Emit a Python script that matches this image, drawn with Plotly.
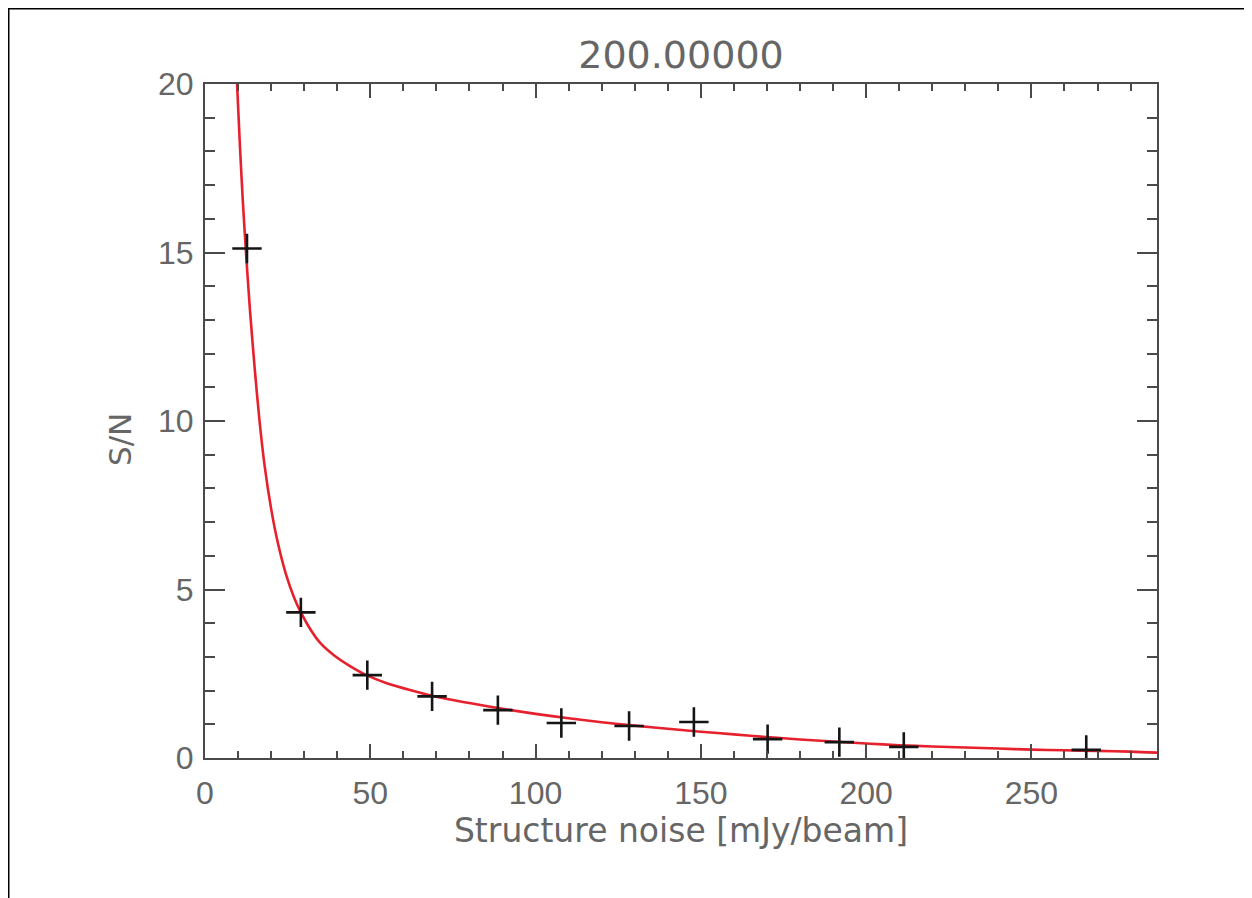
import plotly.graph_objects as go

# Measured points (crosses)
noise_x = [12.7, 29.0, 49.1, 68.7, 88.6, 107.8, 128.3, 147.9, 170.2, 191.9, 211.4, 266.6]
snr_y = [15.12, 4.32, 2.46, 1.83, 1.42, 1.04, 0.95, 1.07, 0.56, 0.47, 0.33, 0.24]

# Red fitted curve
fit_x = [9.7, 10.5, 11.4, 12.4, 13.6, 15.0, 16.5, 18.0, 20.0, 22.0, 24.5, 27.0, 29.0,
         32.0, 35.0, 39.0, 44.0, 49.0, 55.0, 62.0, 70.0, 80.0, 90.0, 100.0, 110.0,
         120.0, 130.0, 140.0, 150.0, 160.0, 170.0, 180.0, 190.0, 200.0, 210.0, 220.0,
         230.0, 240.0, 250.0, 260.0, 270.0, 280.0, 288.0]
fit_y = [20.0, 18.3, 16.6, 15.0, 13.3, 11.6, 10.0, 8.7, 7.4, 6.4, 5.45, 4.75, 4.32,
         3.8, 3.4, 3.05, 2.72, 2.45, 2.22, 2.02, 1.82, 1.63, 1.46, 1.31, 1.18,
         1.06, 0.96, 0.87, 0.78, 0.70, 0.62, 0.55, 0.49, 0.43, 0.38, 0.34,
         0.31, 0.28, 0.25, 0.23, 0.21, 0.19, 0.16]

title_text = "200.00000"
x_title = "Structure noise [mJy/beam]"
y_title = "S/N"
x_ticks = [0, 50, 100, 150, 200, 250]
y_ticks = [0, 5, 10, 15, 20]

# page body has an 8px margin, so the figure is drawn 8px smaller
W, H = 1244, 890
L, R, T, B = 197, 95, 76, 140
pw, ph = W - L - R, H - T - B

axis_col = "#4a4a4a"
text_col = "#666666"
tick_font = "Liberation Sans, Arial, sans-serif"
label_font = "DejaVu Sans, sans-serif"

fig = go.Figure()
fig.add_trace(go.Scatter(x=fit_x, y=fit_y, mode="lines",
                         line=dict(color="#e6202c", width=2.6, shape="spline", smoothing=0.8),
                         hoverinfo="skip", showlegend=False))
fig.add_trace(go.Scatter(x=noise_x, y=snr_y, mode="markers",
                         marker=dict(symbol="cross-thin", size=21,
                                     line=dict(color="#151515", width=2.6)),
                         showlegend=False))

def px2paper_x(px):
    return (px - L) / pw

def px2paper_y(py):
    return (H - B - py) / ph

# Black border lines at top and left of the image
fig.add_shape(type="line", xref="paper", yref="paper",
              x0=px2paper_x(0), x1=px2paper_x(W - 2), y0=px2paper_y(0), y1=px2paper_y(0),
              line=dict(color="black", width=3))
fig.add_shape(type="line", xref="paper", yref="paper",
              x0=px2paper_x(0), x1=px2paper_x(0), y0=px2paper_y(0), y1=px2paper_y(H),
              line=dict(color="black", width=3))

fig.add_annotation(text=y_title, xref="paper", yref="paper",
                   x=px2paper_x(112), y=px2paper_y(432), xanchor="center", yanchor="middle",
                   textangle=-90, showarrow=False,
                   font=dict(family=label_font, size=31, color=text_col))

fig.update_layout(
    width=W, height=H,
    margin=dict(l=L, r=R, t=T, b=B),
    paper_bgcolor="white", plot_bgcolor="white",
    title=dict(text=title_text, x=(L + pw / 2) / W, xanchor="center",
               y=1 - 47 / H, yanchor="middle",
               font=dict(family=label_font, size=38, color=text_col)),
    font=dict(family=tick_font, color=text_col),
)
fig.update_xaxes(
    range=[0, 288], tickvals=x_ticks, ticks="inside", ticklen=14, tickwidth=2,
    tickcolor=axis_col, showline=True, linecolor=axis_col, linewidth=2,
    mirror="allticks", showgrid=False, zeroline=False,
    tickfont=dict(size=32, color=text_col), ticklabelstandoff=6,
    minor=dict(ticks="inside", ticklen=7, tickwidth=2, dtick=10, tickcolor=axis_col, showgrid=False),
    title=dict(text=x_title, font=dict(family=label_font, size=33, color=text_col), standoff=0),
)
fig.update_yaxes(
    range=[0, 20], tickvals=y_ticks, ticks="inside", ticklen=20, tickwidth=2,
    tickcolor=axis_col, showline=True, linecolor=axis_col, linewidth=2,
    mirror="allticks", showgrid=False, zeroline=False,
    tickfont=dict(size=32, color=text_col), ticklabelstandoff=3,
    minor=dict(ticks="inside", ticklen=10, tickwidth=2, dtick=1, tickcolor=axis_col, showgrid=False),
)

fig.write_html("out.html")
